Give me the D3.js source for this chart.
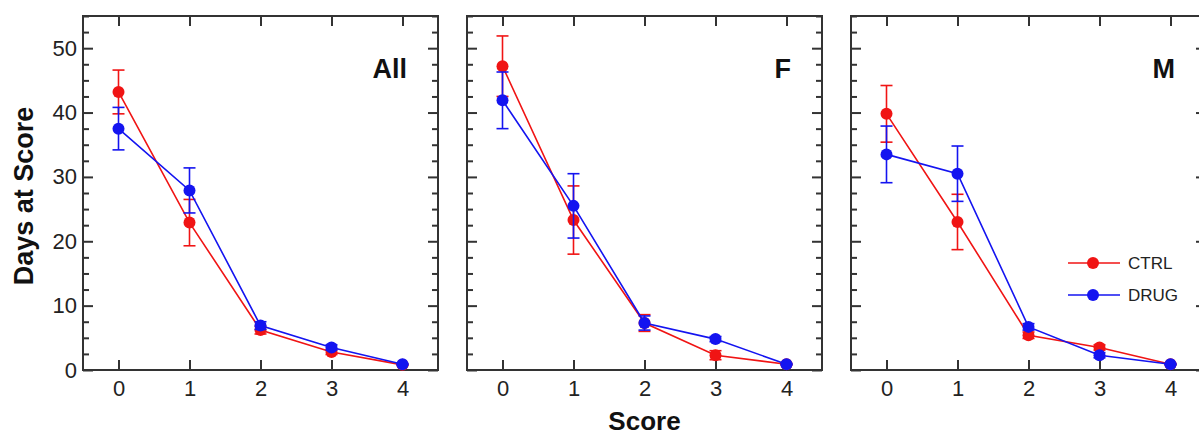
<!DOCTYPE html>
<html>
<head>
<meta charset="utf-8">
<script src="https://cdn.jsdelivr.net/npm/d3@7"></script>
<style>
  body { margin: 0; background: #fff; }
  text { font-family: "Liberation Sans", Arial, sans-serif; }
</style>
</head>
<body>
<div class="visHolder"></div>
<script>
// data
var scores = [0, 1, 2, 3, 4];
var panels = ["All", "F", "M"];
var groups = ["CTRL", "DRUG"];

var ctrlAll = [43.2, 22.9, 6.2, 2.8, 0.8];
var ctrlAllErr = [3.4, 3.6, 0.6, 0.4, 0.1];
var drugAll = [37.5, 27.9, 6.9, 3.5, 0.9];
var drugAllErr = [3.3, 3.5, 0.6, 0.4, 0.1];

var ctrlF = [47.2, 23.3, 7.3, 2.3, 0.9];
var ctrlFErr = [4.7, 5.3, 1.3, 0.7, 0.1];
var drugF = [41.9, 25.5, 7.3, 4.8, 0.9];
var drugFErr = [4.4, 5.0, 1.1, 0.4, 0.1];

var ctrlM = [39.8, 23.0, 5.4, 3.5, 0.9];
var ctrlMErr = [4.4, 4.3, 0.5, 0.4, 0.1];
var drugM = [33.5, 30.5, 6.7, 2.3, 0.9];
var drugMErr = [4.4, 4.3, 0.5, 0.4, 0.1];

var yMajor = [0, 10, 20, 30, 40, 50];
var yMinor = d3.range(0, 55.1, 2.5).filter(v => v % 10 != 0);

var series = {
    "All": [[ctrlAll, ctrlAllErr], [drugAll, drugAllErr]],
    "F": [[ctrlF, ctrlFErr], [drugF, drugFErr]],
    "M": [[ctrlM, ctrlMErr], [drugM, drugMErr]]
};

var colors = ["#f01414", "#1414f0"];
var axisColor = "#333";

var W = 1199, H = 436;
var pw = 355, ph = 354, top0 = 16;
var lefts = [83, 467, 851];

var svg = d3.select(".visHolder")
    .append("svg")
    .attr("width", W)
    .attr("height", H);

var x = d3.scaleLinear().domain([-0.5, 4.5]).range([0, pw]);
var y = d3.scaleLinear().domain([0, 55]).range([ph, 0]);

panels.forEach((p, pi) => {
    var g = svg.append("g").attr("transform", `translate(${lefts[pi]},${top0})`);

    // left axis
    g.append("g")
        .call(d3.axisLeft(y).tickValues(yMajor).tickSize(-10).tickPadding(6)
            .tickFormat(pi == 0 ? d3.format("d") : ""))
        .style("font-size", "22px");
    g.append("g")
        .call(d3.axisLeft(y).tickValues(yMinor).tickSize(-6).tickFormat(""));

    // right axis
    g.append("g").attr("transform", `translate(${pw},0)`)
        .call(d3.axisRight(y).tickValues(yMajor).tickSize(-10).tickFormat(""));
    g.append("g").attr("transform", `translate(${pw},0)`)
        .call(d3.axisRight(y).tickValues(yMinor).tickSize(-6).tickFormat(""));

    // top axis
    g.append("g")
        .call(d3.axisTop(x).tickValues(scores).tickSize(-10).tickFormat(""));

    // bottom axis
    g.append("g").attr("transform", `translate(0,${ph})`)
        .call(d3.axisBottom(x).tickValues(scores).tickSize(-10).tickPadding(10).tickFormat(d3.format("d")))
        .style("font-size", "22px");

    g.selectAll(".domain").remove();
    g.selectAll(".tick line").attr("stroke", axisColor).attr("stroke-width", 2);
    g.selectAll(".tick text").attr("fill", "#222").style("font-family", "'Liberation Sans', Arial, sans-serif");

    g.append("rect")
        .attr("width", pw)
        .attr("height", ph)
        .attr("fill", "none")
        .attr("stroke", axisColor)
        .attr("stroke-width", 2);

    // series
    series[p].forEach((s, si) => {
        var vals = s[0], errs = s[1];
        var pts = scores.map((sc, i) => ({ s: sc, v: vals[i], e: errs[i] }));
        var c = colors[si];
        var sg = g.append("g");

        var eb = sg.selectAll(".err")
            .data(pts)
            .enter()
            .append("g");
        eb.append("line")
            .attr("x1", d => x(d.s)).attr("x2", d => x(d.s))
            .attr("y1", d => y(d.v - d.e)).attr("y2", d => y(d.v + d.e))
            .attr("stroke", c).attr("stroke-width", 1.6);
        eb.append("line")
            .attr("x1", d => x(d.s) - 6).attr("x2", d => x(d.s) + 6)
            .attr("y1", d => y(d.v + d.e)).attr("y2", d => y(d.v + d.e))
            .attr("stroke", c).attr("stroke-width", 1.6);
        eb.append("line")
            .attr("x1", d => x(d.s) - 6).attr("x2", d => x(d.s) + 6)
            .attr("y1", d => y(d.v - d.e)).attr("y2", d => y(d.v - d.e))
            .attr("stroke", c).attr("stroke-width", 1.6);

        sg.append("path")
            .datum(pts)
            .attr("fill", "none")
            .attr("stroke", c)
            .attr("stroke-width", 1.6)
            .attr("d", d3.line().x(d => x(d.s)).y(d => y(d.v)));

        sg.selectAll(".dot")
            .data(pts)
            .enter()
            .append("circle")
            .attr("cx", d => x(d.s))
            .attr("cy", d => y(d.v))
            .attr("r", 6)
            .attr("fill", c);
    });

    // panel title
    g.append("text")
        .text(p)
        .attr("x", pw - 31)
        .attr("y", 62)
        .attr("text-anchor", "end")
        .style("font-size", "27px")
        .style("font-weight", "bold")
        .attr("fill", "#111");

    // legend in last panel
    if (pi == 2) {
        var legend = g.selectAll(".legend-label")
            .data(groups)
            .enter()
            .append("g")
            .attr("transform", (d, i) => `translate(${217},${247 + i * 32})`);
        legend.append("line")
            .attr("x1", 0).attr("x2", 52)
            .attr("stroke", (d, i) => colors[i]).attr("stroke-width", 1.6);
        legend.append("circle")
            .attr("cx", 25).attr("r", 6)
            .attr("fill", (d, i) => colors[i]);
        legend.append("text")
            .attr("x", 60)
            .attr("dy", "0.35em")
            .style("font-size", "17px")
            .attr("fill", "#222")
            .text(d => d);
    }
});

svg.append("text")
    .text("Days at Score")
    .attr("transform", "translate(33,196) rotate(-90)")
    .attr("text-anchor", "middle")
    .style("font-size", "27px")
    .style("font-weight", "bold")
    .attr("fill", "#111");

svg.append("text")
    .text("Score")
    .attr("x", lefts[1] + pw / 2)
    .attr("y", 430)
    .attr("text-anchor", "middle")
    .style("font-size", "26px")
    .style("font-weight", "bold")
    .attr("fill", "#111");
</script>
</body>
</html>
